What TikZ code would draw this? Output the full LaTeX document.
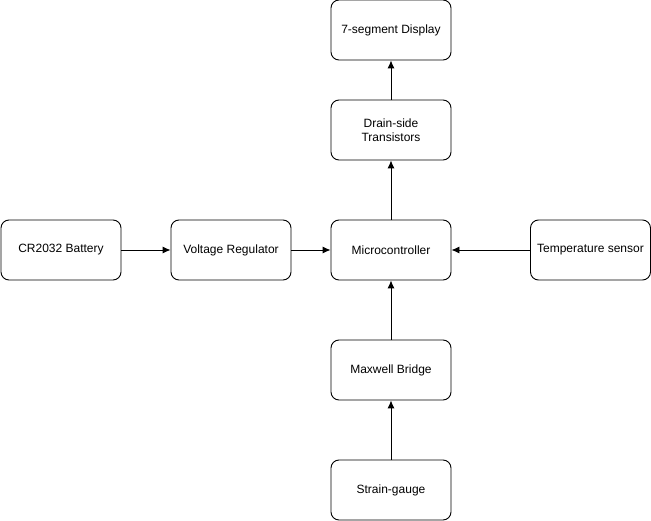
\documentclass[tikz,border=0pt]{standalone}
\usepackage{fontspec}
\setmainfont{Liberation Sans}
\usetikzlibrary{arrows.meta}
\begin{document}
\begin{tikzpicture}[x=1pt,y=-1pt,
  block/.style={draw,rounded corners=8pt,minimum width=120pt,minimum height=60pt,
    align=center,font=\fontsize{12}{14}\selectfont,line width=0.9pt},
  link/.style={-{Latex[length=8pt,width=7pt]},line width=0.9pt}]

\useasboundingbox (0,0) rectangle (651,521);

% Middle row
\node[block] (battery) at (61,250) {CR2032 Battery};
\node[block] (regulator) at (231,250) {Voltage Regulator};
\node[block] (mcu) at (391,250) {Microcontroller};
\node[block] (temp) at (590.5,250) {Temperature sensor};

% Column above
\node[block] (drain) at (391,130) {Drain-side\\Transistors};
\node[block] (display) at (391,30) {7-segment Display};

% Column below
\node[block] (bridge) at (391,370) {Maxwell Bridge};
\node[block] (gauge) at (391,490) {Strain-gauge};

% Arrows
\draw[link] (battery) -- (regulator);
\draw[link] (regulator) -- (mcu);
\draw[link] (temp) -- (mcu);
\draw[link] (mcu) -- (drain);
\draw[link] (drain) -- (display);
\draw[link] (gauge) -- (bridge);
\draw[link] (bridge) -- (mcu);

\end{tikzpicture}
\end{document}
